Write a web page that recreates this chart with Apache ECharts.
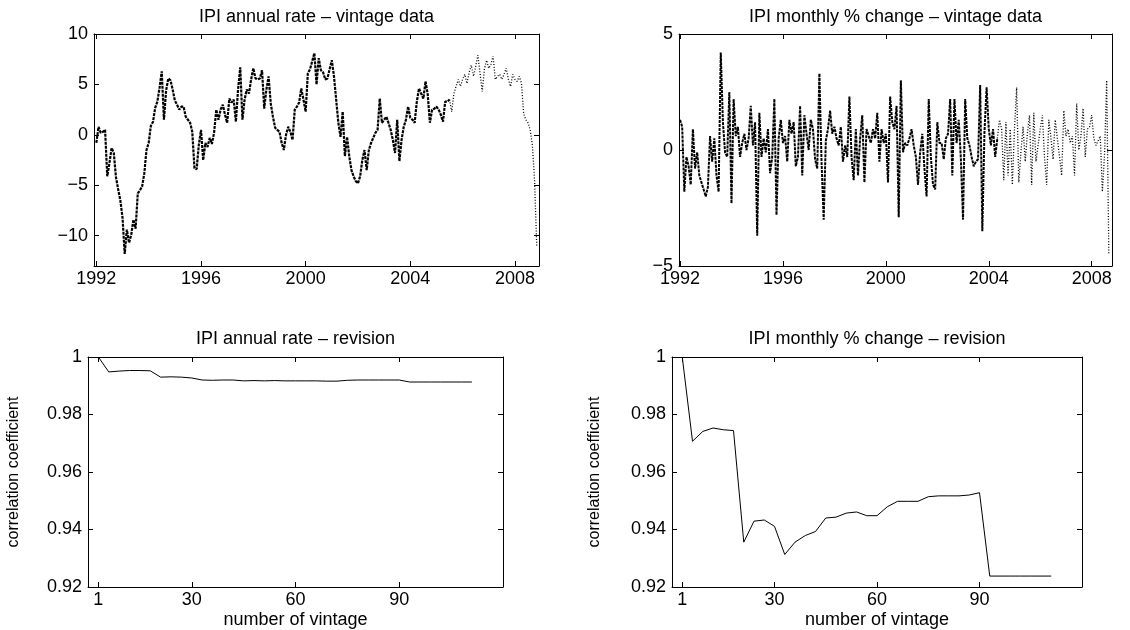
<!DOCTYPE html>
<html>
<head>
<meta charset="utf-8">
<script src="https://cdn.jsdelivr.net/npm/echarts@6/dist/echarts.min.js"></script>
<style>
html,body{margin:0;padding:0;background:#fff;}
#chart{width:1130px;height:630px;}
</style>
</head>
<body>
<div id="chart"></div>
<script>
// ---------------- data ----------------
const startYear = 1992;           // first month of the vintage series: Jan 1992
const monthsPerYear = 12;

// IPI annual rate (%), monthly, Jan 1992 .. Nov 2008
const annualRateVintage = [
  -0.8, 0.8, 0.2, 0.3, 0.5, -4.1, -2.8, -1.3, -1.8, -4.2,
  -5.4, -6.5, -8.2, -11.8, -9.4, -10.7, -9.9, -8.4, -9.3, -5.8,
  -5.5, -5.1, -3.8, -1.5, -0.8, 0.9, 1.3, 2.7, 3.3, 4.7,
  6.3, 1.5, 4.4, 5.6, 5.4, 4.5, 3.4, 3.0, 2.5, 2.8,
  2.8, 1.8, 1.5, 1.2, 0.3, -3.3, -3.4, -1.0, 0.5, -2.5,
  -0.8, -1.2, -0.3, -0.9, 0.2, 2.5, 1.5, 2.5, 3.0, 2.0,
  1.2, 3.6, 3.2, 3.5, 1.3, 4.5, 6.7, 1.5, 3.5, 4.5,
  4.1, 5.5, 6.6, 5.6, 5.5, 5.6, 6.4, 2.6, 4.5, 5.8,
  3.1, 1.8, 0.7, 0.5, 0.3, -0.8, -1.5, 0.0, 0.8, 0.3,
  -0.5, 2.5, 2.8, 3.2, 4.6, 3.5, 2.3, 6.1, 6.5, 7.3,
  8.1, 5.0, 7.6, 6.4, 6.2, 5.5, 5.6, 6.5, 7.4, 5.8,
  3.5, 1.2, -0.2, 2.3, -2.1, -0.2, -2.1, -3.5, -4.1, -4.6,
  -4.8, -4.1, -2.5, -1.5, -3.5, -1.5, -0.8, -0.3, 0.2, 0.5,
  3.6, 1.2, 1.5, 1.8, 1.2, 0.5, -0.5, -1.8, 1.5, -2.6,
  -0.5, 0.8, 1.5, 2.8, 1.7, 1.5, 1.2, 3.3, 4.6, 4.1,
  3.6, 5.3, 4.0, 1.2, 2.5, 2.6, 2.8, 2.5, 2.0, 1.3,
  3.3, 3.3, 3.5, 2.3, 4.1, 4.8, 5.5, 4.8, 5.5, 6.0,
  5.1, 6.2, 6.9, 5.8, 6.8, 7.9, 6.1, 4.3, 6.5, 7.4,
  6.6, 7.0, 7.8, 5.5, 5.8, 6.0, 5.5, 6.0, 6.6, 5.5,
  4.8, 6.0, 5.5, 5.3, 5.8, 5.1, 2.1, 1.5, 1.2, 0.5,
  -1.0, -4.5, -11.0
];

// IPI monthly % change, monthly, Jan 1992 .. Sep 2008
const monthlyChangeVintage = [
  1.3, 1.0, -1.8, -0.3, -0.7, -1.5, 0.9, -0.8, -0.1, -1.1,
  -1.4, -1.7, -2.0, -1.6, 0.6, -0.5, 0.5, -1.1, -1.8, 4.2,
  1.2, -0.1, -0.3, 2.5, -2.3, 2.2, 0.6, 1.0, -0.3, 0.3,
  0.7, 0.0, 0.5, 1.9, 0.2, 1.2, -3.7, 1.6, -0.3, 0.5,
  -0.1, 0.9, -1.0, -0.3, 2.2, -2.8, 0.5, 1.3, 0.3, 0.6,
  -0.5, 1.3, 0.7, 1.2, -0.7, -0.3, 1.9, -1.1, 1.5, 0.7,
  0.0, 1.3, 0.9, -0.4, -0.8, 3.3, -0.5, -3.0, 0.4, 0.9,
  1.7, 0.7, 1.0, 0.5, 0.2, 1.0, -0.5, 0.2, -0.3, 2.3,
  -0.3, -1.3, 0.9, -1.1, 0.5, 1.5, -1.4, 0.9, 0.6, 0.3,
  0.9, 0.5, 1.6, -0.5, 0.9, 0.3, 0.7, -1.4, 2.3, 1.2,
  0.9, 1.9, -2.9, 3.0, -0.1, 0.3, 0.2, 0.5, 0.9, 0.2,
  -0.3, -1.5, -0.1, 0.7, -0.8, -2.0, 2.2, -0.3, -1.5, -1.7,
  1.2, 0.3, 0.3, -0.4, 0.5, 0.7, 2.2, -1.1, 2.2, 0.3,
  1.3, -0.4, -3.0, 2.2, 0.5, 0.2, -0.3, -0.7, -0.5, -0.4,
  2.8, -3.5, 0.8, 2.7, 0.9, 0.2, 0.9, -0.3, 0.5, 1.3,
  0.9, -1.3, 1.2, -1.1, 0.9, -1.5, 0.9, 2.7, -1.4, -0.1,
  1.0, -0.5, 0.7, 1.5, -1.5, 1.6, -0.5, 0.2, 0.9, 1.5,
  -0.3, -1.5, 1.3, 0.5, -0.4, 1.3, 0.5, -0.3, -1.1, 1.7,
  0.6, 0.9, 0.3, 0.6, -1.1, 2.0, 0.0, 0.6, 1.8, -0.3,
  0.9, 1.0, 1.5, 0.5, 0.2, 0.4, 0.6, -1.8, -0.2, 3.0,
  -4.5
];
// months from which only the latest vintages cover the data (drawn sparser)
const annualSparseFrom = 162;
const monthlySparseFrom = 148;

// revision: correlation coefficient by number of vintage
const vintageNumber = [3, 6, 9, 12, 15, 18, 21, 24, 27, 30, 33, 36, 39, 42, 45, 48, 51, 54, 57, 60,
  63, 66, 69, 72, 75, 78, 81, 84, 87, 90, 93, 96, 99, 102, 105, 108, 111];
const annualRevisionCorr = [
  1.000, 0.9948, 0.9951, 0.9953, 0.9953, 0.9952, 0.9930, 0.9931, 0.9930, 0.9927,
  0.9920, 0.9919, 0.9920, 0.9920, 0.9917, 0.9918, 0.9917, 0.9918, 0.9917, 0.9917,
  0.9917, 0.9917, 0.9916, 0.9916, 0.9919, 0.9920, 0.9920, 0.9920, 0.9920, 0.9920,
  0.9913, 0.9913, 0.9913, 0.9913, 0.9913, 0.9913, 0.9913
];
const monthlyRevisionCorr = [
  1.000, 0.9707, 0.9741, 0.9753, 0.9747, 0.9744, 0.9356, 0.9429, 0.9433, 0.9411,
  0.9313, 0.9356, 0.9379, 0.9393, 0.9440, 0.9443, 0.9457, 0.9461, 0.9448, 0.9448,
  0.9479, 0.9498, 0.9498, 0.9498, 0.9514, 0.9517, 0.9517, 0.9517, 0.9520, 0.9528,
  0.9238, 0.9238, 0.9238, 0.9238, 0.9238, 0.9238, 0.9238
];

// ticks and texts
const yearTicks = [1992, 1996, 2000, 2004, 2008];
const annualRateTicks = [-10, -5, 0, 5, 10];
const vintageTickValues = [3, 30, 60, 90];
const vintageTickLabels = ['1', '30', '60', '90'];
const panelTitles = [
  'IPI annual rate \u2013 vintage data',
  'IPI monthly % change \u2013 vintage data',
  'IPI annual rate \u2013 revision',
  'IPI monthly % change \u2013 revision'
];
const revisionYName = 'correlation coefficient';
const revisionXName = 'number of vintage';

// ---------------- chart ----------------
const FONT = "'Liberation Sans', Arial, Helvetica, sans-serif";
const FS = 18;

function monthPairs(values, from, to) {
  const out = [];
  for (let i = from; i <= to && i < values.length; i++) {
    out.push([startYear + i / monthsPerYear, values[i]]);
  }
  return out;
}
function zip(xs, ys) { return xs.map((x, k) => [x, ys[k]]); }
const minusFmt = v => (v < 0 ? '\u2212' + Math.abs(v) : String(v));
const corrFmt = v => (Math.abs(v - 1) < 1e-9 ? '1' : v.toFixed(2));
const vintageFmt = v => {
  const k = vintageTickValues.indexOf(Math.round(v));
  return k >= 0 ? vintageTickLabels[k] : '';
};

const grids = [
  { left: 94, top: 34, width: 445, height: 232 },
  { left: 679, top: 34, width: 433, height: 232 },
  { left: 88, top: 357, width: 415, height: 232 },
  { left: 672, top: 357, width: 410, height: 232 }
];

function baseAxis(gridIndex, position, min, max, showLabel) {
  return {
    type: 'value', gridIndex, position, min, max,
    axisLine: { show: true, onZero: false, lineStyle: { color: '#000', width: 1 } },
    axisTick: { show: true, inside: true, length: 5, lineStyle: { color: '#000', width: 1 } },
    axisLabel: { show: showLabel, color: '#000', fontSize: FS, fontFamily: FONT },
    splitLine: { show: false }
  };
}

function xPair(g, min, max, ticks, fmt, name) {
  const tickCfg = { show: true, inside: true, length: 5, customValues: ticks, lineStyle: { color: '#000', width: 1 } };
  const bottom = baseAxis(g, 'bottom', min, max, true);
  bottom.axisTick = tickCfg;
  bottom.axisLabel = { show: true, customValues: ticks, formatter: fmt, color: '#000', fontSize: FS, fontFamily: FONT, margin: 4 };
  if (name) {
    bottom.name = name; bottom.nameLocation = 'middle'; bottom.nameGap = 24;
    bottom.nameTextStyle = { color: '#000', fontSize: FS, fontFamily: FONT, verticalAlign: 'top' };
  }
  const top = baseAxis(g, 'top', min, max, false);
  top.axisTick = tickCfg;
  return [bottom, top];
}

function yPair(g, min, max, opts) {
  const left = baseAxis(g, 'left', min, max, true);
  const right = baseAxis(g, 'right', min, max, false);
  if (opts.interval != null) { left.interval = opts.interval; right.interval = opts.interval; }
  if (opts.ticks) {
    const tc = { show: true, inside: true, length: 5, customValues: opts.ticks, lineStyle: { color: '#000', width: 1 } };
    left.axisTick = tc; right.axisTick = tc;
    left.axisLabel.customValues = opts.ticks;
  }
  left.axisLabel.formatter = opts.fmt;
  left.axisLabel.margin = 6;
  if (opts.name) {
    left.name = opts.name; left.nameLocation = 'middle'; left.nameRotate = 90; left.nameGap = opts.nameGap;
    left.nameTextStyle = { color: '#000', fontSize: 16, fontFamily: FONT };
  }
  return [left, right];
}

const xAxes = [].concat(
  xPair(0, 1991.91, 2008.92, yearTicks, v => String(Math.round(v))),
  xPair(1, 1991.96, 2008.79, yearTicks, v => String(Math.round(v))),
  xPair(2, 0, 120, vintageTickValues, vintageFmt, revisionXName),
  xPair(3, 0, 120, vintageTickValues, vintageFmt, revisionXName)
);
const yAxes = [].concat(
  yPair(0, -13, 10, { ticks: annualRateTicks, fmt: minusFmt }),
  yPair(1, -5, 5, { interval: 5, fmt: minusFmt }),
  yPair(2, 0.92, 1, { interval: 0.02, fmt: corrFmt, name: revisionYName, nameGap: 66 }),
  yPair(3, 0.92, 1, { interval: 0.02, fmt: corrFmt, name: revisionYName, nameGap: 69 })
);

function lineSeries(axisIdx, data, width, dash, z) {
  return {
    type: 'line', xAxisIndex: axisIdx, yAxisIndex: axisIdx, data,
    showSymbol: false, symbol: 'none', animation: false, z: z || 2,
    lineStyle: { color: '#000', width, type: dash },
    emphasis: { disabled: true }
  };
}

const series = [
  lineSeries(0, monthPairs(annualRateVintage, 0, annualSparseFrom), 2.2, [3, 1]),
  lineSeries(0, monthPairs(annualRateVintage, annualSparseFrom, annualRateVintage.length - 1), 1.3, [1, 1.8]),
  lineSeries(2, monthPairs(monthlyChangeVintage, 0, monthlySparseFrom), 2.0, [3, 1]),
  lineSeries(2, monthPairs(monthlyChangeVintage, monthlySparseFrom, monthlyChangeVintage.length - 1), 1.3, [1, 1.8]),
  lineSeries(4, zip(vintageNumber, annualRevisionCorr), 1, 'solid'),
  lineSeries(6, zip(vintageNumber, monthlyRevisionCorr), 1, 'solid')
];

const titleCenters = [
  { x: 316.5, y: 8 }, { x: 895.5, y: 8 }, { x: 295.5, y: 330 }, { x: 877, y: 330 }
];
const titles = panelTitles.map((t, k) => ({
  text: t, left: titleCenters[k].x, top: titleCenters[k].y, textAlign: 'center', padding: 0,
  textStyle: { color: '#000', fontSize: FS, fontWeight: 'normal', fontFamily: FONT }
}));

const chart = echarts.init(document.getElementById('chart'), null, { renderer: 'canvas' });
chart.setOption({
  backgroundColor: '#fff',
  animation: false,
  title: titles,
  grid: grids,
  xAxis: xAxes,
  yAxis: yAxes,
  series
});
</script>
</body>
</html>
